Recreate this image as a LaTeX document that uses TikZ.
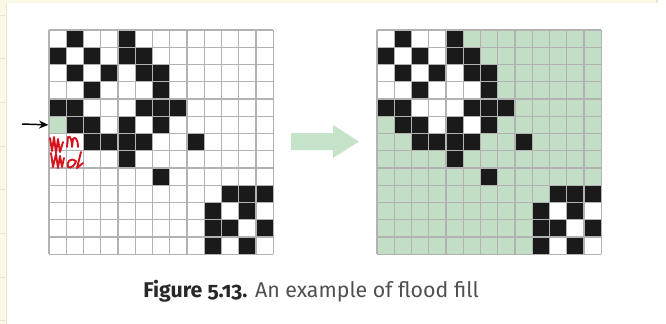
\documentclass[tikz,border=0pt]{standalone}
\usepackage{fontspec}
\newfontfamily\capfont[Numbers=OldStyle]{Fira Sans}
\usetikzlibrary{arrows.meta}
\definecolor{cellgreen}{RGB}{194,223,197}
\definecolor{cellblack}{RGB}{26,26,26}
\definecolor{gridgray}{RGB}{178,178,178}
\definecolor{arrowgreen}{RGB}{197,227,200}
\definecolor{cream}{RGB}{251,248,230}
\definecolor{creamline}{RGB}{232,228,205}
\definecolor{scribred}{RGB}{214,18,28}
\definecolor{capdark}{RGB}{40,40,40}
\definecolor{capgray}{RGB}{80,80,80}
\tikzset{
  gridline/.style={draw=gridgray, line width=1.1pt},
  blackcell/.style={fill=cellblack},
  greencell/.style={fill=cellgreen},
  scrib/.style={draw=scribred, line width=1.4pt, line cap=round, line join=round},
}
\begin{document}
\begin{tikzpicture}[x=0.75pt,y=-0.75pt]
\useasboundingbox (0,0) rectangle (666,324);
\fill[white] (0,0) rectangle (666,324);
% page margin artefacts
\fill[cream] (0,0) rectangle (6,324);
\fill[cream] (0,0) rectangle (657,3);
\draw[creamline, line width=0.6pt] (6,3) -- (6,324);
\draw[creamline, line width=0.8pt] (657,0) -- (657,3);
\foreach \t in {15,58,102,146,189,233,277,320}
  \draw[creamline, line width=0.6pt] (0,\t) -- (6,\t);
% cell size
\def\s{17.25}
% ---------- left grid ----------
\begin{scope}[shift={(49,30)}]
  \fill[greencell] (0,5*\s) rectangle (\s,6*\s);
  \foreach \c/\r in {1/0,4/0, 0/1,2/1,4/1,5/1, 1/2,3/2,5/2,6/2, 2/3,6/3,
      0/4,1/4,5/4,6/4,7/4, 1/5,2/5,4/5,6/5, 2/6,3/6,4/6,5/6,8/6, 4/7, 6/8,
      10/9,11/9,12/9, 9/10,11/10, 9/11,10/11,12/11, 9/12,11/12}
    \fill[blackcell] (\c*\s,\r*\s) rectangle ++(\s,\s);
  \foreach \i in {0,...,13} {
    \draw[gridline] (\i*\s,0) -- (\i*\s,13*\s);
    \draw[gridline] (0,\i*\s) -- (13*\s,\i*\s);
  }
  \coordinate (seed) at (0,5.5*\s);
\end{scope}
% ---------- right grid ----------
\begin{scope}[shift={(377,30)}]
  \fill[greencell] (0,0) rectangle (13*\s,13*\s);
  \foreach \c/\r in {0/0,2/0,3/0, 1/1,3/1, 0/2,2/2,4/2, 0/3,1/3,3/3,4/3,5/3,
      2/4,3/4,4/4, 3/5,5/5, 10/10,12/10, 11/11, 10/12,12/12}
    \fill[white] (\c*\s,\r*\s) rectangle ++(\s,\s);
  \foreach \c/\r in {1/0,4/0, 0/1,2/1,4/1,5/1, 1/2,3/2,5/2,6/2, 2/3,6/3,
      0/4,1/4,5/4,6/4,7/4, 1/5,2/5,4/5,6/5, 2/6,3/6,4/6,5/6,8/6, 4/7, 6/8,
      10/9,11/9,12/9, 9/10,11/10, 9/11,10/11,12/11, 9/12,11/12}
    \fill[blackcell] (\c*\s,\r*\s) rectangle ++(\s,\s);
  \foreach \i in {0,...,13} {
    \draw[gridline] (\i*\s,0) -- (\i*\s,13*\s);
    \draw[gridline] (0,\i*\s) -- (13*\s,\i*\s);
  }
\end{scope}
% ---------- seed arrow ----------
\coordinate (arrstart) at (22,124);
\draw[line width=1.1pt, -{Stealth[length=7pt,width=6pt]}] (arrstart) -- ([xshift=-0.5pt]seed);
% ---------- big green arrow ----------
\fill[arrowgreen] (291,133) -- (333,133) -- (333,125) -- (359,141.5) -- (333,158)
   -- (333,150) -- (291,150) -- cycle;
% ---------- red scribbles ----------
\draw[scrib] (50,138) -- (52,151) -- (54,137) -- (56,153) -- (58,139) -- (60,152) -- (63,142);
\draw[scrib] (51,153) -- (53,167) -- (56,154) -- (58,168) -- (60,156) -- (62,167) -- (64,158);
\draw[scrib] (67,147) -- (68,137) .. controls (70,135) and (72,140) .. (72,147)
   -- (73,139) .. controls (75,136) and (78,139) .. (78,147);
\draw[scrib] (76,161) .. controls (71,157) and (66,162) .. (68,167)
   .. controls (71,169) and (75,165) .. (76,161);
\draw[scrib] (81,152) -- (77,168) -- (83,163);
% ---------- caption ----------
\node[anchor=base west, inner sep=0pt, font=\capfont\fontsize{16}{19}\selectfont, text=capgray]
  (caption) at (143,297) {{\bfseries\color{capdark}Figure 5.13.} An example of flood fill};
\end{tikzpicture}
\end{document}
